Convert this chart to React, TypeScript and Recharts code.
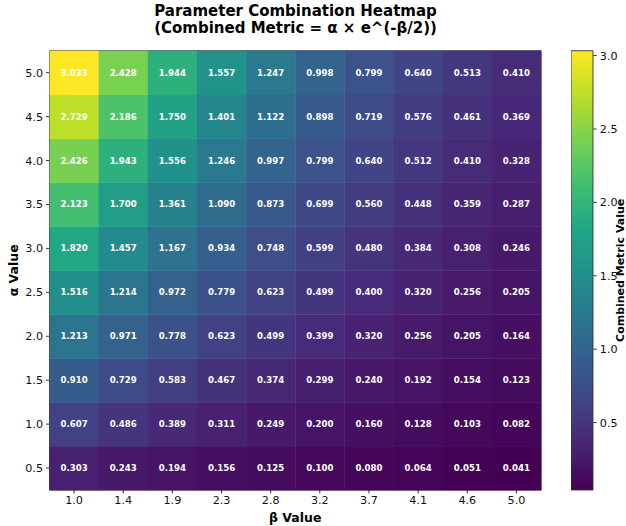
import React from "react";
import {Bar, BarChart, ReferenceArea, Scatter, ScatterChart, XAxis, YAxis} from "recharts";

// beta on the x axis, alpha on the y axis
const betaLabels = ["1.0", "1.4", "1.9", "2.3", "2.8", "3.2", "3.7", "4.1", "4.6", "5.0"];
const alphaLabels = ["0.5", "1.0", "1.5", "2.0", "2.5", "3.0", "3.5", "4.0", "4.5", "5.0"];

// combined metric per alpha row, one value per beta column
const alpha05 = [0.303, 0.243, 0.194, 0.156, 0.125, 0.100, 0.080, 0.064, 0.051, 0.041];
const alpha10 = [0.607, 0.486, 0.389, 0.311, 0.249, 0.200, 0.160, 0.128, 0.103, 0.082];
const alpha15 = [0.910, 0.729, 0.583, 0.467, 0.374, 0.299, 0.240, 0.192, 0.154, 0.123];
const alpha20 = [1.213, 0.971, 0.778, 0.623, 0.499, 0.399, 0.320, 0.256, 0.205, 0.164];
const alpha25 = [1.516, 1.214, 0.972, 0.779, 0.623, 0.499, 0.400, 0.320, 0.256, 0.205];
const alpha30 = [1.820, 1.457, 1.167, 0.934, 0.748, 0.599, 0.480, 0.384, 0.308, 0.246];
const alpha35 = [2.123, 1.700, 1.361, 1.090, 0.873, 0.699, 0.560, 0.448, 0.359, 0.287];
const alpha40 = [2.426, 1.943, 1.556, 1.246, 0.997, 0.799, 0.640, 0.512, 0.410, 0.328];
const alpha45 = [2.729, 2.186, 1.750, 1.401, 1.122, 0.898, 0.719, 0.576, 0.461, 0.369];
const alpha50 = [3.033, 2.428, 1.944, 1.557, 1.247, 0.998, 0.799, 0.640, 0.513, 0.410];

const colorbarTicks = [0.5, 1.0, 1.5, 2.0, 2.5, 3.0];

const metricRows = [alpha05, alpha10, alpha15, alpha20, alpha25, alpha30, alpha35, alpha40, alpha45, alpha50];

const cells = metricRows.flatMap((row, yi) => row.map((v, xi) => ({x: xi, y: yi, v})));
const vMin = Math.min(...cells.map((c) => c.v));
const vMax = Math.max(...cells.map((c) => c.v));

const VIRIDIS = [
  "#440154", "#482475", "#414487", "#355f8d", "#2a788e", "#21918c",
  "#22a884", "#44bf70", "#7ad151", "#bddf26", "#fde725",
];

const hexToRgb = (h: string) => [1, 3, 5].map((i) => parseInt(h.slice(i, i + 2), 16));

function viridis(t: number) {
  const s = Math.max(0, Math.min(1, t)) * (VIRIDIS.length - 1);
  const i = Math.min(Math.floor(s), VIRIDIS.length - 2);
  const f = s - i;
  const a = hexToRgb(VIRIDIS[i]);
  const b = hexToRgb(VIRIDIS[i + 1]);
  const c = a.map((av, k) => Math.round(av + (b[k] - av) * f));
  return `rgb(${c[0]},${c[1]},${c[2]})`;
}

const W = 626;
const H = 526;
const PLOT_LEFT = 49.5;
const PLOT_RIGHT = 541;
const PLOT_TOP = 50.7;
const PLOT_BOTTOM = 490;
const CELL_W = (PLOT_RIGHT - PLOT_LEFT) / betaLabels.length;
const CELL_H = (PLOT_BOTTOM - PLOT_TOP) / alphaLabels.length;
const CBAR_W = 22.3;
const CBAR_AXIS_W = 54.6;

const tickStyle = {fontSize: 11.2, fill: "#111"};
const axisTitle = {fontSize: 12.5, fontWeight: "bold" as const, fill: "#000"};

const HeatCell = (props: any) => {
  const {cx, cy, payload} = props;
  return (
    <g>
      <rect
        x={cx - CELL_W / 2}
        y={cy - CELL_H / 2}
        width={CELL_W + 0.4}
        height={CELL_H + 0.4}
        fill={viridis((payload.v - vMin) / (vMax - vMin))}
      />
      <text
        x={cx}
        y={cy}
        textAnchor="middle"
        dominantBaseline="central"
        fill="#fff"
        fontSize={8.6}
        fontWeight="bold"
      >
        {payload.v.toFixed(3)}
      </text>
    </g>
  );
};

const colorbarData = [{name: "metric", range: [vMin, vMax]}];

export default function App() {
  return (
    <div
      style={{
        position: "absolute",
        left: 0,
        top: 0,
        width: W,
        height: H,
        overflow: "hidden",
        background: "#fff",
        fontFamily: "'DejaVu Sans', sans-serif",
      }}
    >
      <div
        style={{
          position: "absolute",
          left: 0,
          top: 3,
          width: 591,
          textAlign: "center",
          fontSize: 15,
          fontWeight: "bold",
          lineHeight: "16.5px",
          color: "#000",
        }}
      >
        <div>Parameter Combination Heatmap</div>
        <div>(Combined Metric = α × e^(-β/2))</div>
      </div>

      <div style={{position: "absolute", left: 0, top: 0}}>
        <ScatterChart
          width={W}
          height={H}
          margin={{top: PLOT_TOP, right: W - PLOT_RIGHT, bottom: 0, left: 0}}
        >
          <XAxis
            type="number"
            dataKey="x"
            domain={[-0.5, 9.5]}
            ticks={betaLabels.map((_, i) => i)}
            interval={0}
            tickFormatter={(i: number) => betaLabels[i]}
            height={H - PLOT_BOTTOM}
            axisLine={false}
            tickSize={3.5}
            tickMargin={3}
            tickLine={{stroke: "#333"}}
            tick={tickStyle}
            label={{
              content: (p: any) => (
                <text
                  x={p.viewBox.x + p.viewBox.width / 2}
                  y={H - 4}
                  textAnchor="middle"
                  {...axisTitle}
                >
                  β Value
                </text>
              ),
            }}
          />
          <YAxis
            type="number"
            dataKey="y"
            domain={[-0.5, 9.5]}
            ticks={alphaLabels.map((_, i) => i)}
            interval={0}
            tickFormatter={(i: number) => alphaLabels[i]}
            width={PLOT_LEFT}
            axisLine={false}
            tickSize={3.5}
            tickMargin={3}
            tickLine={{stroke: "#333"}}
            tick={tickStyle}
            label={{
              content: (p: any) => {
                const cy = p.viewBox.y + p.viewBox.height / 2;
                return (
                  <text
                    x={14}
                    y={cy}
                    textAnchor="middle"
                    dominantBaseline="central"
                    transform={`rotate(-90, 14, ${cy})`}
                    {...axisTitle}
                  >
                    α Value
                  </text>
                );
              },
            }}
          />
          <Scatter data={cells} shape={HeatCell} isAnimationActive={false}/>
          <ReferenceArea
            x1={-0.5}
            x2={9.5}
            y1={-0.5}
            y2={9.5}
            fill="none"
            stroke="#333"
            strokeWidth={0.9}
          />
        </ScatterChart>
      </div>

      <div style={{position: "absolute", left: 571, top: 0}}>
        <BarChart
          width={CBAR_W + CBAR_AXIS_W}
          height={H}
          data={colorbarData}
          margin={{top: PLOT_TOP, right: 0, bottom: H - PLOT_BOTTOM, left: 0}}
          barCategoryGap={0}
        >
          <defs>
            <linearGradient id="viridisBar" x1="0" y1="1" x2="0" y2="0">
              {VIRIDIS.map((c, i) => (
                <stop key={c} offset={i / (VIRIDIS.length - 1)} stopColor={c}/>
              ))}
            </linearGradient>
          </defs>
          <XAxis dataKey="name" hide height={0}/>
          <YAxis
            orientation="right"
            type="number"
            domain={[vMin, vMax]}
            ticks={colorbarTicks}
            interval={0}
            tickFormatter={(v: number) => v.toFixed(1)}
            width={CBAR_AXIS_W}
            axisLine={false}
            tickSize={3.5}
            tickMargin={3}
            tickLine={{stroke: "#333"}}
            tick={tickStyle}
            label={{
              content: (p: any) => {
                const cx = p.viewBox.x + p.viewBox.width / 2;
                const cy = p.viewBox.y + p.viewBox.height / 2;
                return (
                  <text
                    x={cx}
                    y={cy}
                    textAnchor="middle"
                    dominantBaseline="central"
                    transform={`rotate(-90, ${cx}, ${cy})`}
                    {...axisTitle}
                    fontSize={11}
                  >
                    Combined Metric Value
                  </text>
                );
              },
            }}
          />
          <Bar
            dataKey="range"
            fill="url(#viridisBar)"
            stroke="#333"
            strokeWidth={0.9}
            isAnimationActive={false}
          />
        </BarChart>
      </div>
    </div>
  );
}
